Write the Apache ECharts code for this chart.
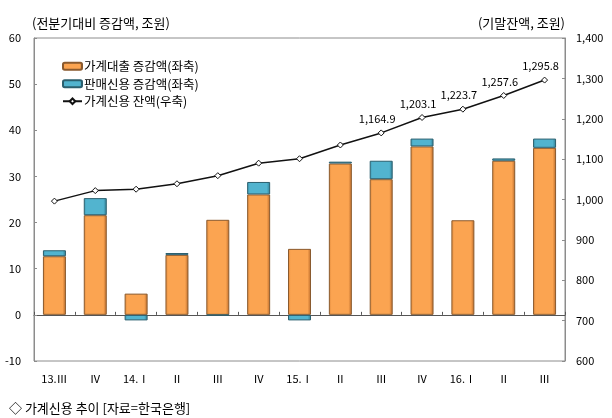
<!DOCTYPE html>
<html>
<head>
	<meta charset="utf-8">
	<title>가계신용 추이</title>
	<script src="https://cdn.jsdelivr.net/npm/echarts@6/dist/echarts.min.js"></script>
	<style>
		html, body { margin: 0; padding: 0; background: #fff; }
	</style>
</head>
<body>
	<div id="main" style="height: 418px; width: 612px;"></div>
	<script type="text/javascript">
		var quarters = ['13.Ⅲ', 'Ⅳ', '14.Ⅰ', 'Ⅱ', 'Ⅲ', 'Ⅳ', '15.Ⅰ', 'Ⅱ', 'Ⅲ', 'Ⅳ', '16.Ⅰ', 'Ⅱ', 'Ⅲ'];
		var loanChange = [12.7, 21.6, 4.6, 13.0, 20.6, 26.1, 14.3, 32.8, 29.4, 36.5, 20.5, 33.4, 36.2];   // 가계대출 증감액
		var salesChange = [1.3, 3.7, -1.2, 0.4, -0.1, 2.7, -1.2, 0.4, 4.0, 1.7, null, 0.5, 2.0];         // 판매신용 증감액 (16.Ⅰ 거의 0)
		var creditTotal = [996.0, 1022.0, 1025.5, 1039.0, 1059.0, 1090.0, 1101.0, 1135.0, 1164.9, 1203.1, 1223.7, 1257.6, 1295.8];
		var labelFrom = 8;   // 잔액 라벨은 15.Ⅲ부터

		var font = 'Noto Sans CJK KR';
		var fmt = function (v) {
			return v.toLocaleString('en-US', {minimumFractionDigits: 0, maximumFractionDigits: 1});
		};

		var myChart = echarts.init(document.getElementById('main'));
		var option = {
			backgroundColor: '#fff',
			textStyle: { fontFamily: font, color: '#000' },
			animation: false,
			title: {
				text: '◇ 가계신용 추이 [자료=한국은행]',
				left: 4,
				top: 397,
				textStyle: { fontFamily: font, fontSize: 13, fontWeight: 'normal', color: '#000' }
			},
			legend: {
				orient: 'vertical',
				left: 57,
				top: 55,
				itemWidth: 19,
				itemHeight: 7,
				itemGap: 5,
				textStyle: { fontFamily: font, fontSize: 12.5, color: '#000', padding: [0, 0, 0, -3] },
				data: ['가계대출 증감액(좌축)', '판매신용 증감액(좌축)', '가계신용 잔액(우축)']
			},
			grid: {
				left: 34, right: 47, top: 38, bottom: 57,
				show: true, borderColor: '#8c8c8c', borderWidth: 1
			},
			xAxis: [{
				type: 'category',
				data: quarters,
				position: 'bottom',
				axisLine: { show: false },
				axisTick: { show: false },
				axisLabel: { fontFamily: font, fontSize: 11, color: '#000', margin: 12 }
			}, {
				type: 'category',
				data: quarters,
				position: 'bottom',
				axisLine: { onZero: true, onZeroAxisIndex: 0, lineStyle: { color: '#555' } },
				axisTick: { show: true, inside: true, length: 3, lineStyle: { color: '#555' } },
				axisLabel: { show: false }
			}],
			yAxis: [{
				type: 'value',
				min: -10, max: 60, interval: 10,
				name: '(전분기대비 증감액, 조원)',
				nameLocation: 'end',
				nameGap: 8,
				nameTextStyle: { fontFamily: font, fontSize: 13, color: '#000', align: 'left', padding: [0, 0, 0, -2] },
				axisLine: { show: true, lineStyle: { color: '#8c8c8c' } },
				axisTick: { show: true, inside: true, length: 3, lineStyle: { color: '#8c8c8c' } },
				axisLabel: { fontFamily: font, fontSize: 11, color: '#000', margin: 13 },
				splitLine: { show: false }
			}, {
				type: 'value',
				min: 600, max: 1400, interval: 100,
				position: 'right',
				name: '(기말잔액, 조원)',
				nameLocation: 'end',
				nameGap: 8,
				nameTextStyle: { fontFamily: font, fontSize: 13, color: '#000', align: 'right', padding: [0, 0, 0, 0] },
				axisLine: { show: true, lineStyle: { color: '#8c8c8c' } },
				axisTick: { show: true, inside: true, length: 3, lineStyle: { color: '#8c8c8c' } },
				axisLabel: { fontFamily: font, fontSize: 11, color: '#000', margin: 11, formatter: fmt },
				splitLine: { show: false }
			}],
			series: [{
				name: '가계대출 증감액(좌축)',
				type: 'bar',
				stack: 'credit',
				barWidth: 23,
				data: loanChange,
				itemStyle: {
					color: new echarts.graphic.LinearGradient(0, 0, 1, 0, [
						{ offset: 0, color: '#e08a3c' },
						{ offset: 0.12, color: '#fba451' },
						{ offset: 0.85, color: '#fba451' },
						{ offset: 1, color: '#b8692a' }
					]),
					borderColor: '#8a5a2e',
					borderWidth: 1
				}
			}, {
				name: '판매신용 증감액(좌축)',
				type: 'bar',
				stack: 'credit',
				barWidth: 23,
				data: salesChange,
				itemStyle: {
					color: new echarts.graphic.LinearGradient(0, 0, 1, 0, [
						{ offset: 0, color: '#3f9bb3' },
						{ offset: 0.12, color: '#52b4cf' },
						{ offset: 0.85, color: '#52b4cf' },
						{ offset: 1, color: '#2f7d92' }
					]),
					borderColor: '#2b5f6e',
					borderWidth: 1
				}
			}, {
				name: '가계신용 잔액(우축)',
				type: 'line',
				yAxisIndex: 1,
				data: creditTotal,
				symbol: 'diamond',
				symbolSize: 6,
				lineStyle: { color: '#111', width: 1.5 },
				itemStyle: { color: '#fff', borderColor: '#111', borderWidth: 1 },
				label: {
					show: true,
					position: 'top',
					distance: 5,
					offset: [-4, 0],
					fontFamily: font,
					fontSize: 11,
					color: '#000',
					formatter: function (p) {
						return p.dataIndex >= labelFrom ? fmt(p.value) : '';
					}
				},
				z: 5
			}]
		};
		myChart.setOption(option);
	</script>
</body>
</html>
